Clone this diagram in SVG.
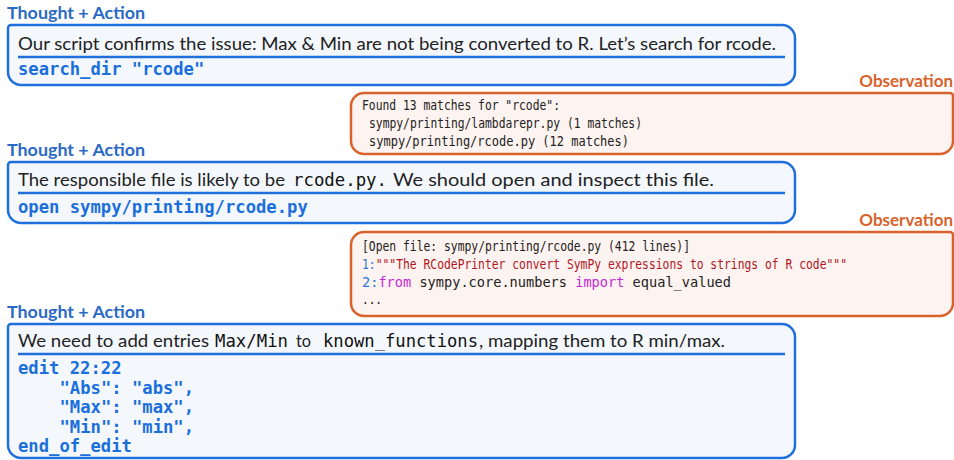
<svg xmlns="http://www.w3.org/2000/svg" width="954" height="460" viewBox="0 0 954 460">
<style>
.tbox{fill:#f4f8fd;stroke:#1f6fdc;stroke-width:2.5}
.obox{fill:#fdf3f0;stroke:#d9622b;stroke-width:2.5}
.sep{stroke:#1f6fdc;stroke-width:2.5}
.lblT{font-family:"Lato","Liberation Sans",sans-serif;font-weight:bold;font-size:17px;fill:#2a6ac4}
.lblO{font-family:"Lato","Liberation Sans",sans-serif;font-weight:bold;font-size:17px;fill:#d9622b}
.sans{font-family:"Lato","Liberation Sans",sans-serif;font-size:17.5px;fill:#222}
.mono{font-family:"DejaVu Sans Mono","Liberation Mono",monospace;font-size:17.2px;fill:#111}
.code{font-family:"DejaVu Sans Mono","Liberation Mono",monospace;font-weight:bold;font-size:17.2px;fill:#1a6fdc}
.obs{font-family:"DejaVu Sans Mono","Liberation Mono",monospace;font-size:14.5px;fill:#222}
.ln{fill:#2a7ad6}
.str{fill:#b0171f}
.kw{fill:#c22ad6}
</style>

<g id="thought1">
<text class="lblT" x="7" y="19" textLength="138" lengthAdjust="spacingAndGlyphs">Thought + Action</text>
<path class="tbox" d="M11,25 H782 A13,13 0 0 1 795,38 V72 A13,13 0 0 1 782,85 H21 A13,13 0 0 1 8,72 V28 A3,3 0 0 1 11,25 Z"/>
<text class="sans" x="18" y="50" textLength="758" lengthAdjust="spacingAndGlyphs">Our script confirms the issue: Max &amp; Min are not being converted to R. Let’s search for rcode.</text>
<line class="sep" x1="18" y1="57" x2="785" y2="57"/>
<text class="code" x="18" y="75">search_dir "rcode"</text>
</g>

<g id="observation1">
<text class="lblO" x="953" y="87" text-anchor="end">Observation</text>
<path class="obox" d="M364,93 H950 A3,3 0 0 1 953,96 V141 A13,13 0 0 1 940,154 H364 A13,13 0 0 1 351,141 V106 A13,13 0 0 1 364,93 Z"/>
<text class="obs" x="362" y="110" textLength="198" lengthAdjust="spacingAndGlyphs">Found 13 matches for "rcode":</text>
<text class="obs" x="369" y="128" textLength="273" lengthAdjust="spacingAndGlyphs">sympy/printing/lambdarepr.py (1 matches)</text>
<text class="obs" x="369" y="146" textLength="260" lengthAdjust="spacingAndGlyphs">sympy/printing/rcode.py (12 matches)</text>
</g>

<g id="thought2">
<text class="lblT" x="7" y="156" textLength="138" lengthAdjust="spacingAndGlyphs">Thought + Action</text>
<path class="tbox" d="M11,162 H782 A13,13 0 0 1 795,175 V210 A13,13 0 0 1 782,223 H21 A13,13 0 0 1 8,210 V165 A3,3 0 0 1 11,162 Z"/>
<text class="sans" x="18" y="186" textLength="267" lengthAdjust="spacingAndGlyphs">The responsible file is likely to be</text>
<text class="mono" x="293" y="186" textLength="94" lengthAdjust="spacingAndGlyphs">rcode.py.</text>
<text class="sans" x="393" y="186" textLength="321" lengthAdjust="spacingAndGlyphs">We should open and inspect this file.</text>
<line class="sep" x1="18" y1="193" x2="785" y2="193"/>
<text class="code" x="18" y="213">open sympy/printing/rcode.py</text>
</g>

<g id="observation2">
<text class="lblO" x="953" y="226" text-anchor="end">Observation</text>
<path class="obox" d="M364,232 H950 A3,3 0 0 1 953,235 V303 A13,13 0 0 1 940,316 H364 A13,13 0 0 1 351,303 V245 A13,13 0 0 1 364,232 Z"/>
<text class="obs" x="362" y="251" textLength="328" lengthAdjust="spacingAndGlyphs">[Open file: sympy/printing/rcode.py (412 lines)]</text>
<text class="obs" x="362" y="269" textLength="485" lengthAdjust="spacingAndGlyphs"><tspan class="ln">1:</tspan><tspan class="str">"""The RCodePrinter convert SymPy expressions to strings of R code"""</tspan></text>
<text class="obs" x="362" y="287" textLength="369" lengthAdjust="spacingAndGlyphs"><tspan class="ln">2:</tspan><tspan class="kw">from</tspan> sympy.core.numbers <tspan class="kw">import</tspan> equal_valued</text>
<text class="obs" x="362" y="304" textLength="20" lengthAdjust="spacingAndGlyphs">...</text>
</g>

<g id="thought3">
<text class="lblT" x="7" y="318" textLength="138" lengthAdjust="spacingAndGlyphs">Thought + Action</text>
<path class="tbox" d="M11,324 H782 A13,13 0 0 1 795,337 V445 A13,13 0 0 1 782,458 H21 A13,13 0 0 1 8,445 V327 A3,3 0 0 1 11,324 Z"/>
<text class="sans" x="18" y="347" textLength="191" lengthAdjust="spacingAndGlyphs">We need to add entries</text>
<text class="mono" x="215" y="347" textLength="73" lengthAdjust="spacingAndGlyphs">Max/Min</text>
<text class="sans" x="296" y="347" textLength="15" lengthAdjust="spacingAndGlyphs">to</text>
<text class="mono" x="323" y="347" textLength="155" lengthAdjust="spacingAndGlyphs">known_functions</text>
<text class="sans" x="479" y="347" textLength="246" lengthAdjust="spacingAndGlyphs">, mapping them to R min/max.</text>
<line class="sep" x1="18" y1="354" x2="785" y2="354"/>
<text class="code" x="18" y="374">edit 22:22</text>
<text class="code" x="59.5" y="393.5">"Abs": "abs",</text>
<text class="code" x="59.5" y="413">"Max": "max",</text>
<text class="code" x="59.5" y="432.5">"Min": "min",</text>
<text class="code" x="18" y="452">end_of_edit</text>
</g>

<g id="connectors"></g>
</svg>
